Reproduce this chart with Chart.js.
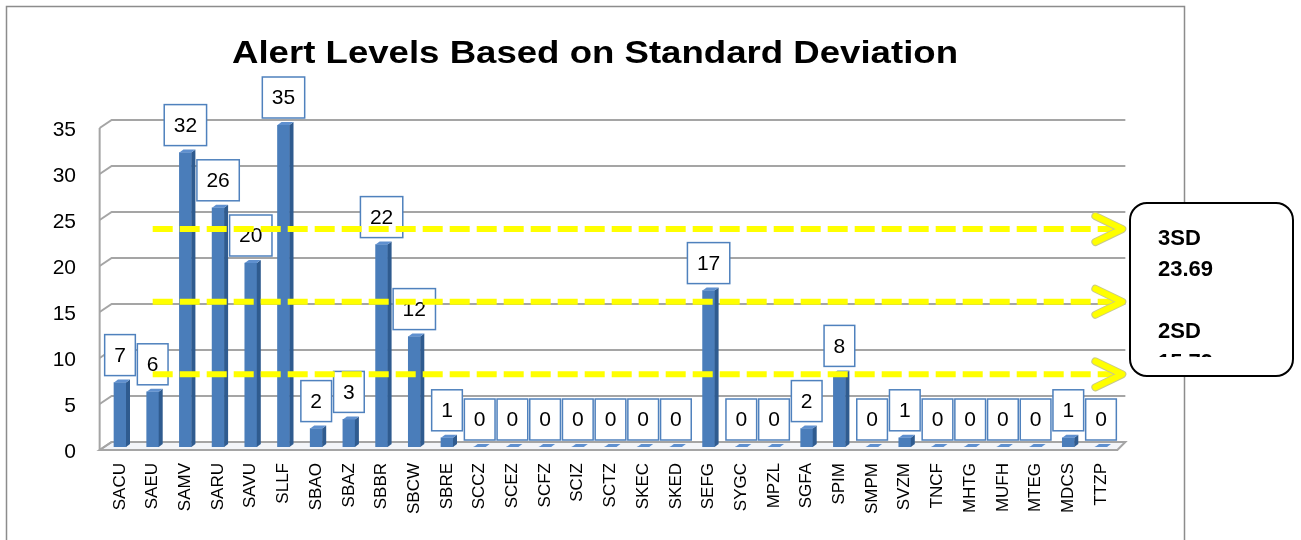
<!DOCTYPE html>
<html>
<head>
<meta charset="utf-8">
<title>Alert Levels Based on Standard Deviation</title>
<script src="https://cdn.jsdelivr.net/npm/chart.js@4.4.1/dist/chart.umd.min.js"></script>
<style>
  html, body { margin: 0; padding: 0; background: #fff; }
  canvas { display: block; }
</style>
</head>
<body>
<canvas id="alertChart" width="1301" height="540"></canvas>
<script>
const TITLE = 'Alert Levels Based on Standard Deviation';
const STATIONS = ['SACU','SAEU','SAMV','SARU','SAVU','SLLF','SBAO','SBAZ','SBBR','SBCW',
  'SBRE','SCCZ','SCEZ','SCFZ','SCIZ','SCTZ','SKEC','SKED','SEFG','SYGC',
  'MPZL','SGFA','SPIM','SMPM','SVZM','TNCF','MHTG','MUFH','MTEG','MDCS','TTZP'];
const ALERTS = [7,6,32,26,20,35,2,3,22,12,
  1,0,0,0,0,0,0,0,17,0,
  0,2,8,0,1,0,0,0,0,1,0];
const SD_LEVELS = [7.9, 15.79, 23.69];
const NOTE_LINES = ['3SD', '23.69', '', '2SD', '15.79'];
const Y_MIN = 0, Y_MAX = 35, Y_STEP = 5;

const FONT = "'Liberation Sans', Arial, sans-serif";
const GRID = '#a5a5a5';
const BLUE = '#4a7dba';

function poly(ctx, pts) {
  ctx.beginPath();
  ctx.moveTo(pts[0][0], pts[0][1]);
  for (let i = 1; i < pts.length; i++) ctx.lineTo(pts[i][0], pts[i][1]);
  ctx.closePath();
  ctx.fill();
}

const scenery = {
  id: 'scenery',
  beforeDraw(chart) {
    const { ctx, width, height } = chart;
    ctx.save();
    ctx.fillStyle = '#fff';
    ctx.fillRect(0, 0, width, height);
    // outer frame
    ctx.strokeStyle = '#8c8c8c';
    ctx.lineWidth = 1.5;
    ctx.beginPath();
    ctx.moveTo(6.5, height); ctx.lineTo(6.5, 6.5); ctx.lineTo(1184.5, 6.5); ctx.lineTo(1184.5, height);
    ctx.stroke();
    // title
    ctx.fillStyle = '#000';
    ctx.font = 'bold 32px ' + FONT;
    const w = ctx.measureText(TITLE).width;
    ctx.translate(232, 63);
    ctx.scale(726 / w, 1);
    ctx.textBaseline = 'alphabetic';
    ctx.fillText(TITLE, 0, 0);
    ctx.restore();
  },
  beforeDatasetsDraw(chart) {
    const { ctx, chartArea: ca, scales: { y } } = chart;
    const backL = ca.left + 8, backR = ca.right + 8;
    const frontL = ca.left - 4, frontR = ca.right;
    ctx.save();
    // floor
    const fb = y.getPixelForValue(0) - 5, ff = y.getPixelForValue(0) + 3;
    ctx.fillStyle = '#f3f5f9';
    poly(ctx, [[backL, fb], [backR, fb], [frontR, ff], [frontL, ff]]);
    ctx.strokeStyle = GRID;
    ctx.lineWidth = 2;
    ctx.stroke();
    // back wall gridlines + side wall ticks
    y.ticks.forEach(t => {
      const by = y.getPixelForValue(t.value) - 5;
      ctx.beginPath();
      ctx.moveTo(frontL, by + 8);
      ctx.lineTo(backL, by);
      ctx.lineTo(backR, by);
      ctx.stroke();
    });
    ctx.beginPath();
    ctx.moveTo(frontL, y.getPixelForValue(Y_MAX) + 3);
    ctx.lineTo(frontL, ff);
    ctx.stroke();
    ctx.restore();
  },
  afterDatasetsDraw(chart) {
    const { ctx, chartArea: ca, scales: { x, y } } = chart;
    const meta = chart.getDatasetMeta(0);
    ctx.save();
    // 3d faces of the bars
    meta.data.forEach(bar => {
      const half = bar.width / 2, l = bar.x - half, r = bar.x + half, t = bar.y, b = bar.base;
      ctx.fillStyle = '#2f5b8f';
      poly(ctx, [[r, t], [r + 4, t - 3], [r + 4, b - 3], [r, b]]);
      ctx.fillStyle = '#5f90cf';
      poly(ctx, [[l, t], [r, t], [r + 4, t - 3], [l + 4, t - 3]]);
    });
    // value boxes
    ctx.font = '21px ' + FONT;
    ctx.textAlign = 'center';
    ctx.textBaseline = 'middle';
    meta.data.forEach((bar, i) => {
      const txt = String(ALERTS[i]);
      const bw = ctx.measureText(txt).width + 19, bh = 41;
      const bx = bar.x - bw / 2, by = bar.y - 7 - bh;
      ctx.fillStyle = '#fff';
      ctx.fillRect(bx, by, bw, bh);
      ctx.strokeStyle = '#4f81bd';
      ctx.lineWidth = 1.5;
      ctx.strokeRect(bx, by, bw, bh);
      ctx.fillStyle = '#000';
      ctx.fillText(txt, bar.x, by + bh / 2 + 1);
    });
    // standard deviation lines with arrow heads
    const xs = x.getPixelForValue(1), xe = ca.right + 5;
    SD_LEVELS.forEach(v => {
      const py = y.getPixelForValue(v);
      ctx.strokeStyle = '#ffff00';
      ctx.lineWidth = 6;
      ctx.setLineDash([20, 7]);
      ctx.beginPath();
      ctx.moveTo(xs, py); ctx.lineTo(xe - 4, py);
      ctx.stroke();
      ctx.setLineDash([]);
      ctx.lineCap = 'round';
      ctx.lineJoin = 'round';
      ctx.strokeStyle = '#c9c98a';
      ctx.lineWidth = 8;
      ctx.beginPath();
      ctx.moveTo(xe - 27, py - 13); ctx.lineTo(xe, py); ctx.lineTo(xe - 27, py + 13);
      ctx.stroke();
      ctx.strokeStyle = '#ffff00';
      ctx.lineWidth = 6;
      ctx.stroke();
      ctx.lineCap = 'butt';
    });
    // note box
    ctx.beginPath();
    ctx.roundRect(1130, 203, 163, 173, 17);
    ctx.fillStyle = '#fff';
    ctx.fill();
    ctx.strokeStyle = '#000';
    ctx.lineWidth = 2;
    ctx.stroke();
    ctx.beginPath();
    ctx.rect(1131, 204, 160, 153);
    ctx.clip();
    ctx.fillStyle = '#000';
    ctx.font = 'bold 22px ' + FONT;
    ctx.textAlign = 'left';
    ctx.textBaseline = 'alphabetic';
    NOTE_LINES.forEach((s, i) => ctx.fillText(s, 1158, 245 + i * 31));
    ctx.restore();
  }
};

new Chart(document.getElementById('alertChart'), {
  type: 'bar',
  data: {
    labels: STATIONS,
    datasets: [{ data: ALERTS, backgroundColor: BLUE, barThickness: 12, borderWidth: 0 }]
  },
  options: {
    responsive: false,
    animation: false,
    devicePixelRatio: 1,
    layout: { padding: { left: 0, right: 183.65, top: 125, bottom: 0 } },
    plugins: { legend: { display: false }, title: { display: false }, tooltip: { enabled: false } },
    scales: {
      x: {
        grid: { display: false, drawTicks: false },
        border: { display: false },
        ticks: { autoSkip: false, maxRotation: 90, minRotation: 90, padding: 16, color: '#000', font: { family: FONT, size: 17 } },
        afterFit(s) { s.height = 93; }
      },
      y: {
        min: Y_MIN, max: Y_MAX,
        grid: { display: false, drawTicks: false },
        border: { display: false },
        ticks: { stepSize: Y_STEP, padding: 27.65, labelOffset: 5, color: '#000', font: { family: FONT, size: 21 } },
        afterFit(s) { s.width = 103.65; }
      }
    }
  },
  plugins: [scenery]
});
</script>
</body>
</html>
